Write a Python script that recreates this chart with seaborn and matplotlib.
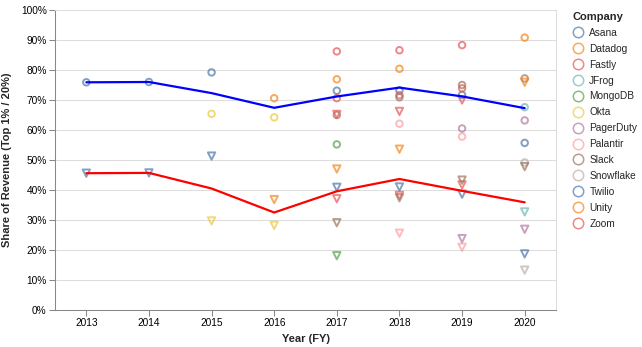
import matplotlib
matplotlib.use("Agg")
import matplotlib.pyplot as plt
from matplotlib.lines import Line2D
import seaborn as sns
import pandas as pd

# Companies in legend order with their colours (tableau10 cycled)
companies = ["Asana", "Datadog", "Fastly", "JFrog", "MongoDB", "Okta", "PagerDuty",
             "Palantir", "Slack", "Snowflake", "Twilio", "Unity", "Zoom"]
colors = ["#4c78a8", "#f58518", "#e45756", "#72b7b2", "#54a24b", "#eeca3b", "#b279a2",
          "#ff9da6", "#9d755d", "#bab0ac", "#4c78a8", "#f58518", "#e45756"]

# One row per company-year: share of revenue from top 20% and top 1% of customers
company = (["Twilio"] * 3 + ["Okta"] * 2 + ["Datadog"] * 3 + ["Unity"]
           + ["Asana"] * 4 + ["Zoom"] * 3 + ["Fastly"] * 3 + ["Slack"] * 4
           + ["MongoDB"] + ["Palantir"] * 2 + ["PagerDuty"] * 2 + ["JFrog"] + ["Snowflake"])
year = ([2013, 2014, 2015] + [2015, 2016] + [2016, 2017, 2018] + [2020]
        + [2017, 2018, 2019, 2020] + [2017, 2018, 2019] + [2017, 2018, 2019]
        + [2017, 2018, 2019, 2020] + [2017] + [2018, 2019] + [2019, 2020] + [2020] + [2020])
top20 = ([75.9, 76.0, 79.2] + [65.4, 64.2] + [70.6, 76.9, 80.4] + [90.8]
         + [73.1, 73.2, 71.7, 55.7] + [86.2, 86.6, 88.3] + [70.6, 71.6, 73.9]
         + [65.0, 70.9, 75.0, 77.2] + [55.2] + [62.1, 57.8] + [60.5, 63.2] + [67.6] + [49.2])
top1 = ([45.6, 45.7, 51.3] + [29.7, 28.2] + [36.8, 47.0, 53.6] + [75.9]
        + [40.9, 41.0, 38.6, 18.7] + [65.2, 66.2, 70.0] + [37.1, 38.2, 41.7]
        + [29.1, 37.4, 43.3, 47.8] + [18.1] + [25.6, 20.9] + [23.8, 26.9] + [32.7] + [13.3])

years = [2013, 2014, 2015, 2016, 2017, 2018, 2019, 2020]
yticks = list(range(0, 101, 10))

df = pd.DataFrame({"Company": company, "Year": year, "Top 20%": top20, "Top 1%": top1})
palette = dict(zip(companies, colors))

sns.set_theme(style="white")
plt.rcParams["font.family"] = ["Liberation Sans", "DejaVu Sans"]

W, H = 642, 347
fig = plt.figure(figsize=(W / 100, H / 100), dpi=100)
ax = fig.add_axes([55 / W, (H - 310) / H, 501 / W, 300 / H])


def hollow(coll, alpha=0.7):
    fc = coll.get_facecolors().copy()
    fc[:, 3] = alpha
    coll.set_edgecolors(fc)
    coll.set_facecolors("none")
    coll.set_linewidths(1.4)


sns.scatterplot(data=df, x="Year", y="Top 20%", hue="Company", palette=palette,
                hue_order=companies, marker="o", s=22, legend=False, ax=ax, zorder=3)
hollow(ax.collections[-1])
sns.scatterplot(data=df, x="Year", y="Top 1%", hue="Company", palette=palette,
                hue_order=companies, marker="v", s=28, legend=False, ax=ax, zorder=3)
hollow(ax.collections[-1])

# Yearly averages across companies
sns.lineplot(data=df, x="Year", y="Top 20%", estimator="mean", errorbar=None,
             color="#0000ff", lw=1.6, ax=ax, zorder=4)
sns.lineplot(data=df, x="Year", y="Top 1%", estimator="mean", errorbar=None,
             color="#ff0000", lw=1.6, ax=ax, zorder=4)

ax.set_xlim(2012.5, 2020.5)
ax.set_ylim(0, 100)
ax.set_xticks(years)
ax.set_xticklabels([str(y) for y in years])
ax.set_yticks(yticks)
ax.set_yticklabels([f"{t}%" for t in yticks])
ax.grid(axis="y", color="#dddddd", lw=0.75)
ax.set_axisbelow(True)
for side in ["top", "right"]:
    ax.spines[side].set_color("#dddddd")
    ax.spines[side].set_linewidth(0.75)
for side in ["left", "bottom"]:
    ax.spines[side].set_color("#888888")
    ax.spines[side].set_linewidth(0.75)
ax.tick_params(axis="both", length=4, width=0.75, color="#888888", labelsize=7.3,
               labelcolor="#000000", pad=2, left=True, bottom=True)

ax.set_xlabel("Year (FY)", fontsize=8, fontweight="bold", labelpad=4)
ax.set_ylabel("Share of Revenue (Top 1% / 20%)", fontsize=8, fontweight="bold", labelpad=6)

handles = [Line2D([], [], ls="", marker="o", ms=7.5, mfc="none", mec=c, mew=1.1, alpha=0.7)
           for c in colors]
leg = fig.legend(handles, companies, title="Company", loc="upper left",
                 bbox_to_anchor=(565 / W, 1 - 5 / H), frameon=False, fontsize=7.3,
                 title_fontproperties={"weight": "bold", "size": 8},
                 labelspacing=0.58, handletextpad=0.5, handlelength=1.2, borderpad=0.2)
leg._legend_box.align = "left"

fig.savefig("out.png", dpi=100)
